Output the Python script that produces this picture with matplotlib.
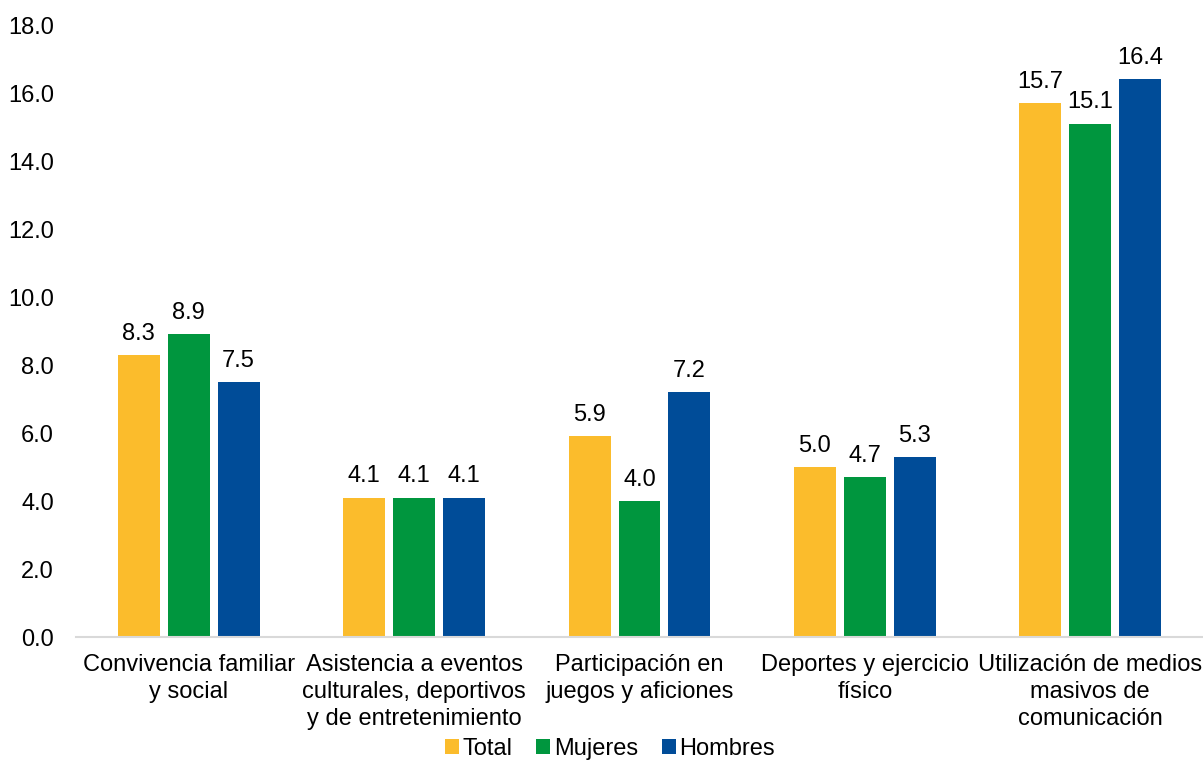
import matplotlib.pyplot as plt
import numpy as np

plt.rcParams['font.family'] = ['Liberation Sans', 'DejaVu Sans']

categories = ['Convivencia familiar\ny social',
              'Asistencia a eventos\nculturales, deportivos\ny de entretenimiento',
              'Participación en\njuegos y aficiones',
              'Deportes y ejercicio\nfísico',
              'Utilización de medios\nmasivos de\ncomunicación']
total = [8.3, 4.1, 5.9, 5.0, 15.7]
mujeres = [8.9, 4.1, 4.0, 4.7, 15.1]
hombres = [7.5, 4.1, 7.2, 5.3, 16.4]

series = [('Total', total, '#FBBC2C'),
          ('Mujeres', mujeres, '#00963E'),
          ('Hombres', hombres, '#004C98')]

fs = 17

fig = plt.figure(figsize=(12.03, 7.61), dpi=100)
ax = fig.add_axes([76 / 1203, 1 - 637 / 761, 1127 / 1203, 612 / 761])

x = np.arange(len(categories))
width = 42 / 225.5
step = 50 / 225.5
for i, (name, vals, color) in enumerate(series):
    pos = x + (i - 1) * step
    ax.bar(pos, vals, width, color=color, label=name)
    for xi, v in zip(pos, vals):
        ax.text(xi, v + 0.3, f'{v:.1f}', ha='center', va='bottom', fontsize=fs)

ax.set_xlim(-0.5, len(categories) - 0.5)
ax.set_ylim(0, 18)
yt = np.arange(0, 18.1, 2)
ax.set_yticks(yt)
ax.set_yticklabels([f'{t:.1f}' for t in yt], fontsize=fs)
ax.set_xticks(x)
ax.set_xticklabels(categories, fontsize=fs, linespacing=1.3)
ax.tick_params(axis='both', length=0)
ax.tick_params(axis='y', pad=16)
ax.tick_params(axis='x', pad=12)

for s in ['top', 'right', 'left']:
    ax.spines[s].set_visible(False)
ax.spines['bottom'].set_color('#D9D9D9')
ax.spines['bottom'].set_linewidth(1.5)

fig.legend(loc='center', bbox_to_anchor=(610 / 1203, 1 - 749 / 761), ncol=3,
           frameon=False, fontsize=fs, handlelength=0.6, handleheight=0.6,
           handletextpad=0.15, columnspacing=1.0, borderpad=0)

fig.savefig('out.png', dpi=100)
